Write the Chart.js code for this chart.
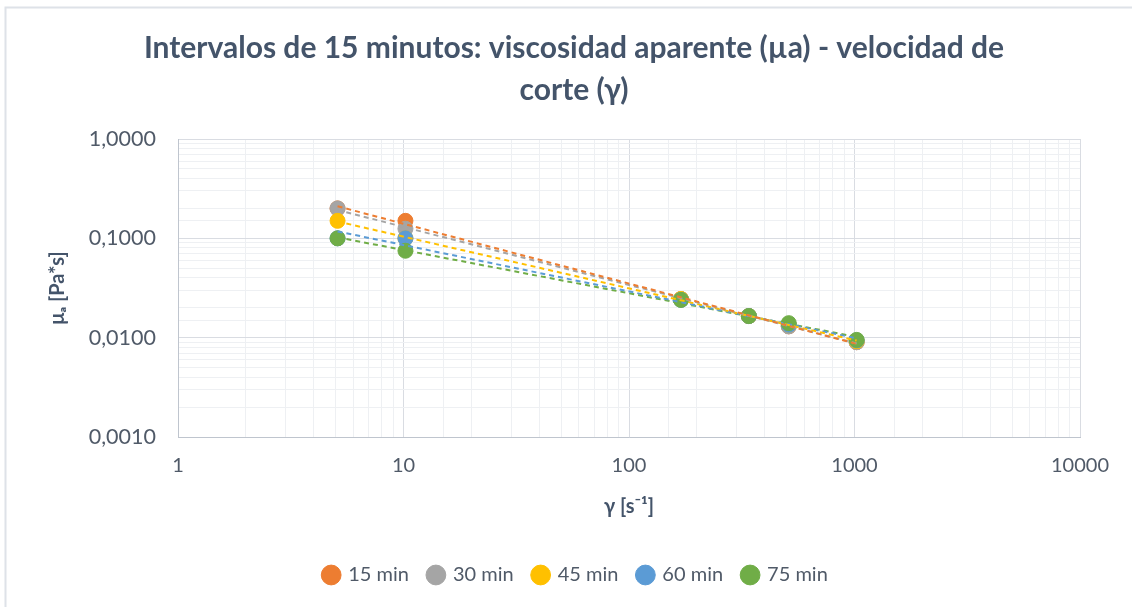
<!DOCTYPE html>
<html>
<head>
<meta charset="utf-8">
<script src="https://cdn.jsdelivr.net/npm/chart.js@4/dist/chart.umd.min.js"></script>
<style>
  html, body { margin: 0; padding: 0; background: #fff; }
  #wrap { width: 1132px; height: 607px; }
</style>
</head>
<body>
<div id="wrap"><canvas id="chart" width="1132" height="607"></canvas></div>
<script>
// Shear rates (s^-1) and apparent viscosity (Pa*s) for each interval
const shearRates = [5.1, 10.2, 170, 340, 511, 1022];
const visc15 = [0.2, 0.15, 0.0245, 0.0165, 0.013, 0.009];
const visc30 = [0.2, 0.125, 0.0245, 0.0165, 0.013, 0.009];
const visc45 = [0.15, 0.1, 0.0245, 0.0165, 0.0135, 0.0092];
const visc60 = [0.1, 0.1, 0.024, 0.0165, 0.0135, 0.0094];
const visc75 = [0.1, 0.075, 0.024, 0.0165, 0.014, 0.0095];
const seriesLabels = ['15 min', '30 min', '45 min', '60 min', '75 min'];
const seriesColors = ['#ED7D31', '#A5A5A5', '#FFC000', '#5B9BD5', '#70AD47'];
const xTickLabels = [1, 10, 100, 1000, 10000];
const yTickLabels = [0.001, 0.01, 0.1, 1];

const allSeries = [visc15, visc30, visc45, visc60, visc75];
const textColor = '#505A68';
const titleColor = '#44546A';
const fontFam = 'Lato, "DejaVu Sans", sans-serif';

// power-law trendline (least squares in log-log space), Excel style
function powerFit(xs, ys) {
    const lx = xs.map(Math.log10), ly = ys.map(Math.log10);
    const n = lx.length;
    const mx = lx.reduce((a, b) => a + b, 0) / n;
    const my = ly.reduce((a, b) => a + b, 0) / n;
    let sxy = 0, sxx = 0;
    for (let i = 0; i < n; i++) {
        sxy += (lx[i] - mx) * (ly[i] - my);
        sxx += (lx[i] - mx) * (lx[i] - mx);
    }
    const b = sxy / sxx;
    const a = my - b * mx;
    return x => Math.pow(10, a + b * Math.log10(x));
}

function isDecade(v) {
    const l = Math.log10(v);
    return Math.abs(l - Math.round(l)) < 1e-9;
}

const datasets = [];
allSeries.forEach((vals, i) => {
    datasets.push({
        label: seriesLabels[i],
        data: shearRates.map((x, j) => ({ x: x, y: vals[j] })),
        backgroundColor: seriesColors[i],
        borderColor: seriesColors[i],
        borderWidth: 1,
        pointRadius: 7.5,
        showLine: false,
        order: 5 - i + 1
    });
});
allSeries.forEach((vals, i) => {
    const f = powerFit(shearRates, vals);
    const x0 = shearRates[0], x1 = shearRates[shearRates.length - 1];
    datasets.push({
        label: 'trend ' + seriesLabels[i],
        data: [{ x: x0, y: f(x0) }, { x: x1, y: f(x1) }],
        borderColor: seriesColors[i],
        borderWidth: 2,
        borderDash: [5, 4],
        pointRadius: 0,
        showLine: true,
        fill: false,
        order: 0
    });
});

// white background + the light frame (only top and left edges are visible)
const chartBorder = {
    id: 'chartBorder',
    beforeDraw(chart) {
        const ctx = chart.ctx;
        ctx.save();
        ctx.fillStyle = '#fff';
        ctx.fillRect(0, 0, chart.width, chart.height);
        ctx.strokeStyle = '#DEE2E8';
        ctx.lineWidth = 2;
        ctx.beginPath();
        ctx.moveTo(5.5, chart.height);
        ctx.lineTo(5.5, 7.5);
        ctx.lineTo(chart.width, 7.5);
        ctx.stroke();
        ctx.restore();
    }
};

// center title and legend on the whole frame instead of the chart area
const frameCenter = {
    id: 'frameCenter',
    afterLayout(chart) {
        [[chart.titleBlock, 16], [chart.legend, 20]].forEach(([box, left]) => {
            if (!box) return;
            box.left = left;
            box.right = chart.width;
            box.width = box.right - box.left;
        });
    }
};

function gridColor(c) {
    if (!c.tick) return '#F0F0F0';
    return isDecade(c.tick.value) ? '#D9DCE2' : '#EEF0F3';
}

new Chart(document.getElementById('chart'), {
    type: 'scatter',
    data: { datasets: datasets },
    plugins: [chartBorder, frameCenter],
    options: {
        responsive: false,
        animation: false,
        layout: { padding: { top: 10, left: 10, right: 52, bottom: 12 } },
        plugins: {
            title: {
                display: true,
                text: ['Intervalos de 15 minutos: viscosidad aparente (µa) - velocidad de', 'corte (γ)'],
                color: titleColor,
                font: { family: fontFam, size: 30, weight: 'bold', lineHeight: 42 / 30 },
                padding: { top: 17, bottom: 28 }
            },
            legend: {
                display: true,
                position: 'bottom',
                labels: {
                    usePointStyle: true,
                    pointStyle: 'circle',
                    boxWidth: 14,
                    boxHeight: 14,
                    padding: 20,
                    color: textColor,
                    font: { family: fontFam, size: 20 },
                    filter: item => !item.text.startsWith('trend'),
                    sort: (a, b) => a.datasetIndex - b.datasetIndex
                }
            },
            tooltip: { enabled: false }
        },
        scales: {
            x: {
                type: 'logarithmic',
                min: 1,
                max: 10000,
                afterFit: s => { s.height = 108; },
                grid: { color: gridColor, drawTicks: false, lineWidth: 1 },
                border: { color: '#BFC5CE', width: 1 },
                ticks: {
                    autoSkip: false,
                    maxRotation: 0,
                    padding: 17,
                    color: textColor,
                    font: { family: fontFam, size: 20 },
                    callback: v => xTickLabels.some(t => Math.abs(t - v) < 1e-9) ? String(v) : ''
                },
                title: {
                    display: true,
                    text: 'γ [s⁻¹]',
                    color: titleColor,
                    font: { family: fontFam, size: 20, weight: 'bold', lineHeight: 1.2 },
                    padding: { top: 0, bottom: 26 }
                }
            },
            y: {
                type: 'logarithmic',
                min: 0.001,
                max: 1,
                afterFit: s => { s.width = 168; },
                grid: { color: gridColor, drawTicks: false, lineWidth: 1 },
                border: { color: '#BFC5CE', width: 1 },
                ticks: {
                    autoSkip: false,
                    padding: 22,
                    color: textColor,
                    font: { family: fontFam, size: 21.5 },
                    callback: v => yTickLabels.some(t => Math.abs(t - v) < 1e-12) ? v.toFixed(4).replace('.', ',') : ''
                },
                title: {
                    display: true,
                    text: 'μₐ [Pa*s]',
                    color: titleColor,
                    font: { family: fontFam, size: 20, weight: 'bold', lineHeight: 1.2 },
                    padding: { top: 36, bottom: 0 }
                }
            }
        }
    }
});
</script>
</body>
</html>
